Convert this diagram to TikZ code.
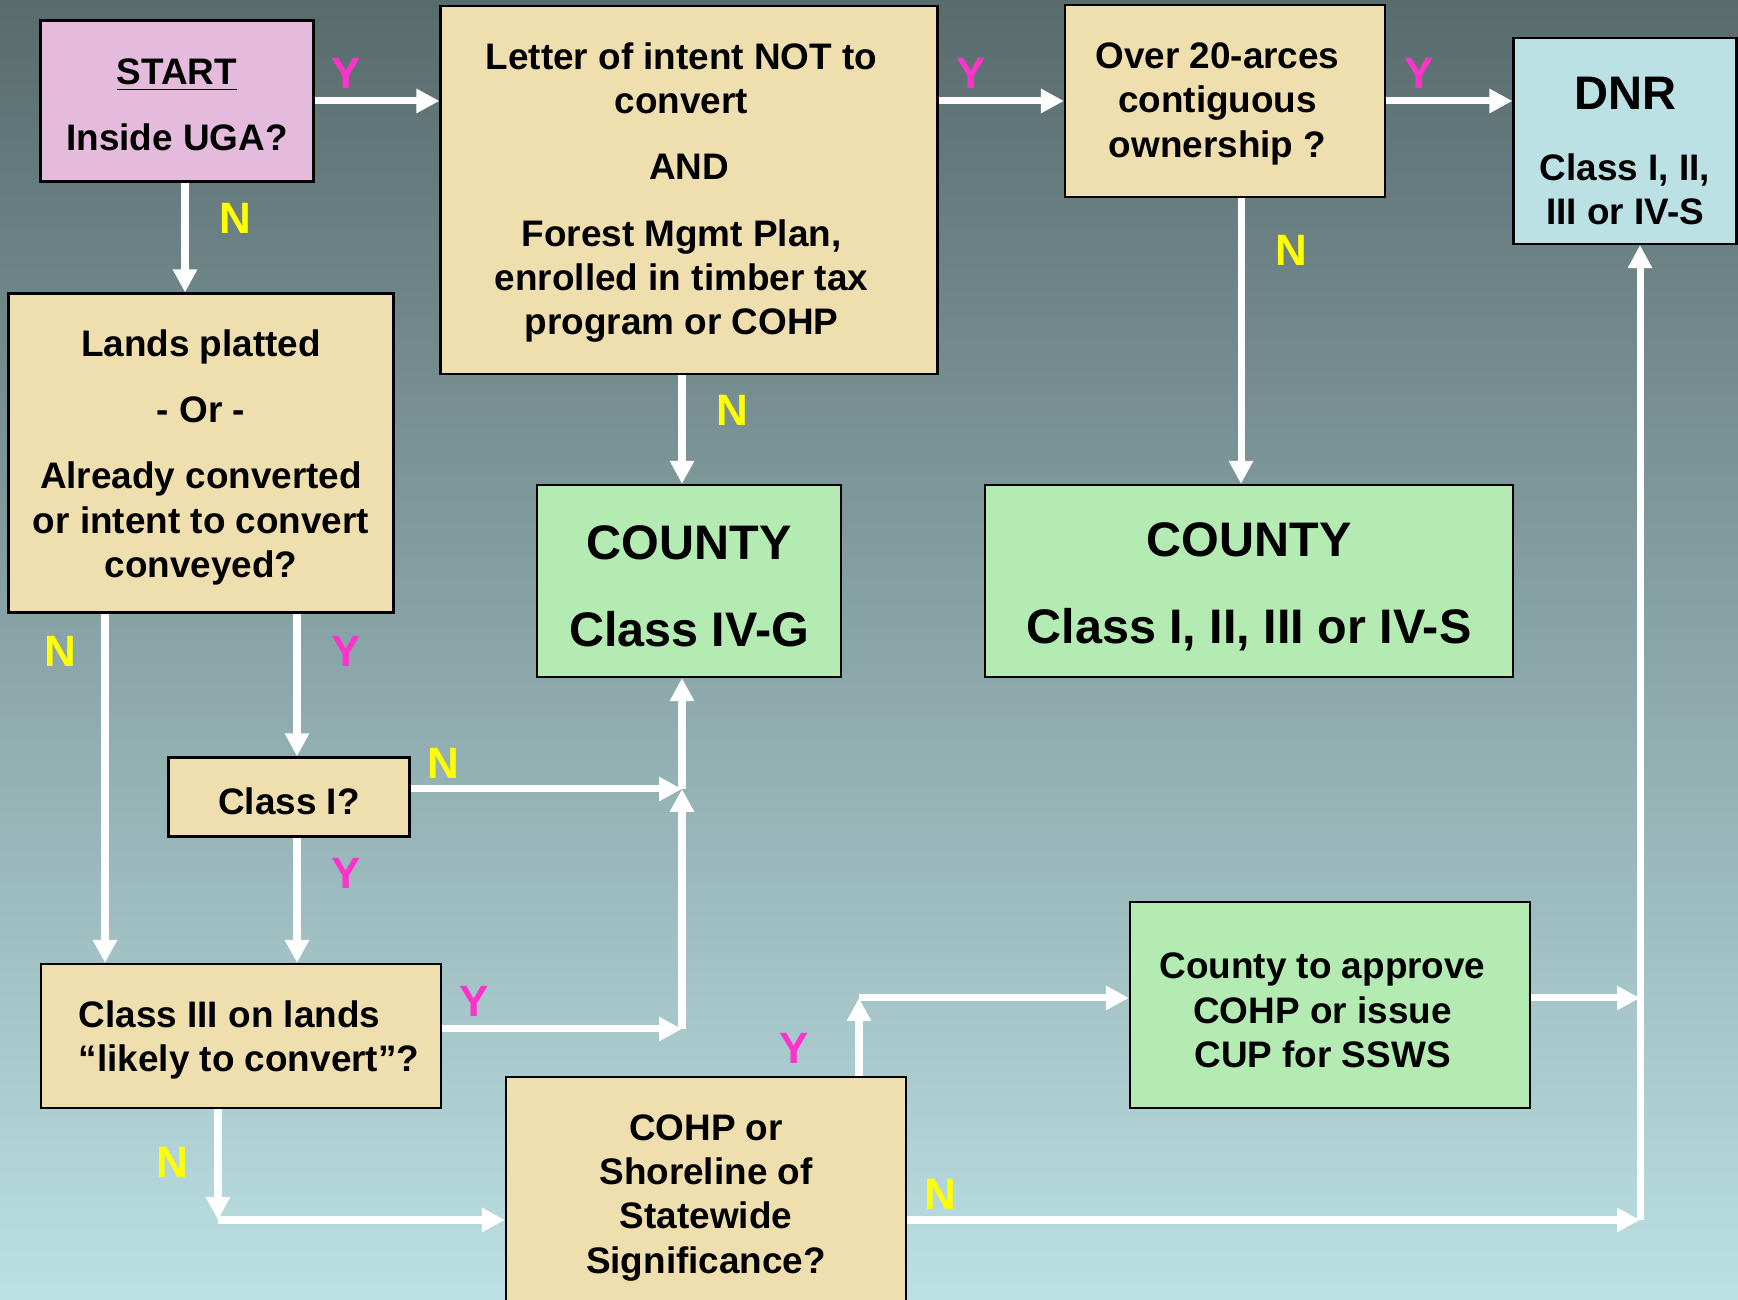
\documentclass[tikz,border=0pt]{standalone}
\usepackage{fontspec}
\setmainfont{Liberation Sans}
\usetikzlibrary{arrows.meta}

\definecolor{boxtan}{HTML}{EFDEAE}
\definecolor{boxpink}{HTML}{E5BBDD}
\definecolor{boxgreen}{HTML}{B3EBB3}
\definecolor{boxblue}{HTML}{BCE1E4}
\definecolor{bgtop}{HTML}{586B6D}
\definecolor{bgbot}{HTML}{BCE0E3}
\definecolor{ycol}{HTML}{FF33CC}
\definecolor{ncol}{HTML}{FFFF00}
\newcommand{\topgap}[1][10pt]{\rule{0pt}{#1}}
\newcommand{\trail}{\makebox[0.15cm]{}}

\begin{document}
\begin{tikzpicture} [box/.style={draw, line width=0.6pt, inner sep=0pt, align=center, font=\bfseries\fontsize{10.5}{12.6}\selectfont},
  big/.style={font=\bfseries\fontsize{13.8}{16.3}\selectfont},
  flow/.style={white, line width=2pt, -{Triangle[length=0.23cm, width=0.23cm]}},
  ylab/.style={text=ycol, font=\bfseries\fontsize{12.5}{15}\selectfont},
  nlab/.style={text=ncol, font=\bfseries\fontsize{12.5}{15}\selectfont}]
  \useasboundingbox (0,0) rectangle (17.38,13);
  \shade[top color=bgtop, bottom color=bgbot] (0,0) rectangle (17.38,13);

  \node[box, fill=boxpink, minimum width=2.73cm, minimum height=1.61cm] (start) at (1.77,11.99) {\topgap[9.5pt]\underline{START}\\[0.22cm]Inside UGA?};
  \node[box, fill=boxtan, minimum width=4.97cm, minimum height=3.68cm] (letter) at (6.89,11.10) {\topgap[9pt]Letter of intent NOT to\trail\\convert\trail\\[0.22cm]AND\\[0.22cm]Forest Mgmt Plan,\trail\\enrolled in timber tax\trail\\program or COHP\trail};
  \node[box, fill=boxtan, minimum width=3.20cm, minimum height=1.92cm] (over) at (12.25,11.99) {\topgap[9pt]Over 20-arces\trail\\contiguous\trail\\ownership ?\trail};
  \node[box, fill=boxblue, minimum width=2.23cm, minimum height=2.06cm] (dnr) at (16.25,11.59) {\topgap[15pt]{\fontsize{13.4}{16}\selectfont DNR}\\[0.26cm]Class I, II,\\III or IV-S};
  \node[box, fill=boxtan, minimum width=3.85cm, minimum height=3.19cm] (lands) at (2.01,8.47) {\topgap Lands platted\\[0.22cm]- Or -\\[0.22cm]Already converted\\or intent to convert\\conveyed?};
  \node[box, big, fill=boxgreen, minimum width=3.04cm, minimum height=1.92cm] (ivg) at (6.89,7.19) {\topgap[12.8pt]COUNTY\\[0.3cm]Class IV-G};
  \node[box, big, fill=boxgreen, minimum width=5.28cm, minimum height=1.92cm] (cty) at (12.49,7.19) {\topgap[12.8pt]COUNTY\\[0.3cm]Class I, II, III or IV-S};
  \node[box, fill=boxtan, minimum width=2.41cm, minimum height=0.79cm] (one) at (2.89,5.03) {\topgap Class I?};
  \node[box, fill=boxtan, minimum width=4.00cm, minimum height=1.44cm, align=left] (three) at (2.41,2.64) {\topgap\hspace*{0.16cm}Class III on lands\\\hspace*{0.16cm}“likely to convert”?};
  \node[box, fill=boxtan, minimum width=4.00cm, minimum height=2.32cm] (cohp) at (7.06,1.07) {\topgap COHP or\\Shoreline of\\Statewide\\Significance?};
  \node[box, fill=boxgreen, minimum width=4.00cm, minimum height=2.06cm] (appr) at (13.30,2.95) {\topgap[10.5pt]County to approve\trail\\COHP or issue\trail\\CUP for SSWS\trail};

  \coordinate (j1) at (6.82,5.11);
  \coordinate (j2) at (6.82,2.71);
  \coordinate (j3) at (2.18,0.80);
  \coordinate (j4) at (8.59,3.02);
  \coordinate (j5) at (16.40,3.02);
  \coordinate (j6) at (16.40,0.80);

  \draw[flow] (start.east) -- (start.east -| letter.west);
  \draw[flow] (over.west -| letter.east) -- (over.west);
  \draw[flow] (over.east) -- (over.east -| dnr.west);
  \draw[flow] (1.85,0 |- start.south) -- (1.85,0 |- lands.north);
  \draw[flow] (6.82,0 |- letter.south) -- (6.82,0 |- ivg.north);
  \draw[flow] (12.41,0 |- over.south) -- (12.41,0 |- cty.north);
  \draw[flow] (1.05,0 |- lands.south) -- (1.05,0 |- three.north);
  \draw[flow] (2.97,0 |- lands.south) -- (2.97,0 |- one.north);
  \draw[flow] (2.97,0 |- one.south) -- (2.97,0 |- three.north);
  \draw[flow] (j1 -| one.east) -- (j1);
  \draw[flow] (j1) -- (j1 |- ivg.south);
  \draw[flow] (j2 -| three.east) -- (j2);
  \draw[flow] (j2) -- (j1);
  \draw[flow] (j3 |- three.south) -- (j3);
  \draw[flow] (j3) -- (j3 -| cohp.west);
  \draw[flow] (j4 |- cohp.north) -- (j4);
  \draw[flow] (j4) -- (j4 -| appr.west);
  \draw[flow] (j5 -| appr.east) -- (j5);
  \draw[flow] (j6 -| cohp.east) -- (j6);
  \draw[flow] (j6) -- (j6 |- dnr.south);

  \node[ylab] (y1) at (3.46,12.27) {Y};
  \node[ylab] (y2) at (9.71,12.27) {Y};
  \node[ylab] (y3) at (14.19,12.27) {Y};
  \node[nlab] (n1) at (2.35,10.82) {N};
  \node[nlab] (n2) at (7.32,8.90) {N};
  \node[nlab] (n3) at (12.91,10.50) {N};
  \node[nlab] (n4) at (0.60,6.49) {N};
  \node[ylab] (y4) at (3.46,6.49) {Y};
  \node[nlab] (n5) at (4.43,5.37) {N};
  \node[ylab] (y5) at (3.46,4.27) {Y};
  \node[ylab] (y6) at (4.74,2.99) {Y};
  \node[nlab] (n6) at (1.72,1.38) {N};
  \node[ylab] (y7) at (7.94,2.52) {Y};
  \node[nlab] (n7) at (9.40,1.06) {N};
\end{tikzpicture}
\end{document}
